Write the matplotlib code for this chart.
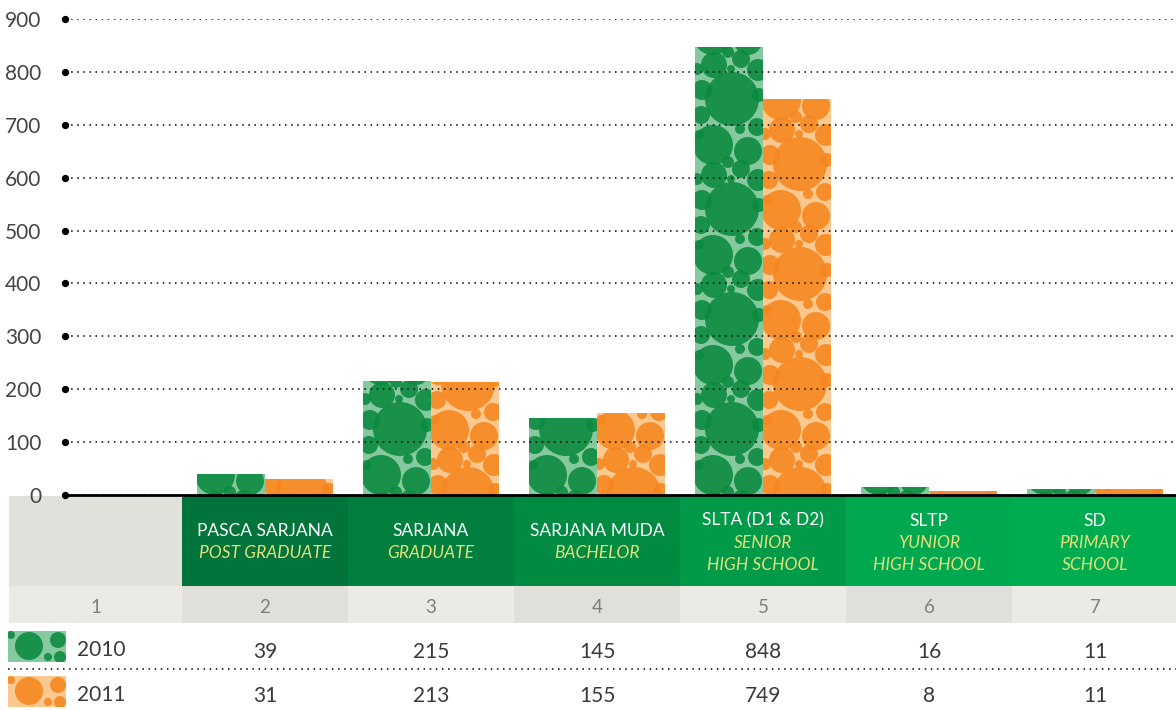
import matplotlib.pyplot as plt
from matplotlib.patches import Rectangle, Ellipse
import numpy as np

plt.rcParams['font.family'] = ['Lato', 'DejaVu Sans']

# datos
categorias = ['PASCA SARJANA', 'SARJANA', 'SARJANA MUDA', 'SLTA (D1 & D2)', 'SLTP', 'SD']
ingles = ['POST GRADUATE', 'GRADUATE', 'BACHELOR', 'SENIOR\nHIGH SCHOOL',
          'YUNIOR\nHIGH SCHOOL', 'PRIMARY\nSCHOOL']
numeros = ['1', '2', '3', '4', '5', '6', '7']
anios = ['2010', '2011']
v2010 = [39, 215, 145, 848, 16, 11]
v2011 = [31, 213, 155, 749, 8, 11]
yticks = [0, 100, 200, 300, 400, 500, 600, 700, 800, 900]

verde, verde_claro = '#0b8a3e', '#86c99f'
naranja, naranja_claro = '#f6861e', '#fbc98f'
colores_cabecera = ['#e1e0da', '#00743a', '#007f3e', '#008a42', '#009a48', '#00a84f', '#00ac50']
amarillo = '#e4e07a'

# textura de burbujas (decorativa): (cx, cy, r) en pixeles dentro de un mosaico 68 x 110
burbujas = [(18, 20, 20), (53, 14, 14), (62, 38, 9), (45, 36, 5), (37, 66, 27),
            (6, 50, 9), (7, 75, 10), (64, 70, 7), (63, 95, 11), (19, 100, 13),
            (46, 106, 9), (2, 96, 6), (33, 3, 6), (4, 30, 5), (36, 96, 4)]
tile_h = 110

W, H = 1176, 710
fig = plt.figure(figsize=(W / 100, H / 100), dpi=100)

# columnas en pixeles: la primera empieza en 16, cada una mide 166
x0_col, ancho_col = 16, 166

# --- grafico de barras ---
ax = fig.add_axes([65 / W, 215 / H, (W - 65) / W, 476 / H])
ax.set_xlim((65 - x0_col) / ancho_col, (W - x0_col) / ancho_col)
ax.set_ylim(0, 900)
ax.set_zorder(3)
ax.patch.set_alpha(0)
px_x, px_y = 1 / ancho_col, 900 / 476

k = np.arange(1, len(categorias) + 1)
ancho = 68 / ancho_col
b1 = ax.bar(k + 0.5 - ancho / 2, v2010, width=ancho, color=verde_claro, zorder=1)
b2 = ax.bar(k + 0.5 + ancho / 2, v2011, width=ancho, color=naranja_claro, zorder=1)


def texturar(barras, color, desfase):
    for r in barras:
        x, h = r.get_x(), r.get_height()
        for t in range(-1, int(h / px_y / tile_h) + 1):
            for cx, cy, rr in burbujas:
                e = Ellipse((x + cx * px_x, (t * tile_h + cy + desfase) * px_y), 2 * rr * px_x,
                            2 * rr * px_y, color=color, lw=0, alpha=0.88, zorder=2)
                ax.add_patch(e)
                e.set_clip_path(r)


texturar(b1, verde, 0)
texturar(b2, naranja, 45)

ax.set_yticks(yticks)
ax.set_yticklabels([str(t) for t in yticks], fontsize=15, color='#444444')
ax.tick_params(axis='y', length=0, pad=17)
ax.set_xticks([])
for s in ax.spines.values():
    s.set_visible(False)
ax.set_axisbelow(False)
ax.yaxis.grid(True, linestyle=(0, (1, 3)), color='black', linewidth=1.1)
ax.axhline(0, color='black', linewidth=2, zorder=3, clip_on=False)
ax.scatter([ax.get_xlim()[0]] * len(yticks), yticks, s=18, color='black',
           zorder=4, clip_on=False)

# --- tabla ---
tx = fig.add_axes([0, 0, 1, 215 / H])
tx.set_xlim(0, W)
tx.set_ylim(H, 495)
tx.axis('off')
tx.set_zorder(1)

for i in range(7):
    izq = x0_col + ancho_col * i
    der = izq + ancho_col
    if i == 0:
        izq = 9
    tx.add_patch(Rectangle((izq, 496), der - izq, 90, color=colores_cabecera[i], lw=0))
    gris = '#ebeae4' if i % 2 == 0 else '#e0dfd9'
    tx.add_patch(Rectangle((izq, 586), der - izq, 37, color=gris, lw=0))
    cx = x0_col + ancho_col * (i + 0.5)
    if i == 0:
        cx = (9 + 182) / 2
    tx.text(cx, 606, numeros[i], ha='center', va='center_baseline', fontsize=13.5, color='#7f7f7f')
    if i > 0:
        lineas = ingles[i - 1].split('\n')
        n = 1 + len(lineas)
        y = 541 - (n - 1) * 22 / 2
        tx.text(cx, y, categorias[i - 1], ha='center', va='center_baseline', fontsize=12.5,
                color='white')
        for j, l in enumerate(lineas):
            tx.text(cx, y + 22 * (j + 1), l, ha='center', va='center_baseline', fontsize=12.5,
                    color=amarillo, style='italic')
        tx.text(cx, 650, str(v2010[i - 1]), ha='center', va='center_baseline', fontsize=15,
                color='#3a3a3a')
        tx.text(cx, 694, str(v2011[i - 1]), ha='center', va='center_baseline', fontsize=15,
                color='#3a3a3a')

# leyenda
for y, c, cc, a in [(631, verde, verde_claro, anios[0]), (676, naranja, naranja_claro, anios[1])]:
    caja = Rectangle((8, y), 58, 31, color=cc, lw=0)
    tx.add_patch(caja)
    for ex, ey, er in [(21, 15, 14), (50, 9, 8), (52, 26, 6), (40, 26, 4), (3, 4, 4)]:
        e = Ellipse((8 + ex, y + ey), 2 * er, 2 * er, color=c, lw=0, alpha=0.88)
        tx.add_patch(e)
        e.set_clip_path(caja)
    tx.text(77, y + 17, a, ha='left', va='center_baseline', fontsize=15, color='#3a3a3a')

tx.plot([8, W], [669, 669], linestyle=(0, (1, 3)), color='black', linewidth=1.1)

fig.savefig('out.png', dpi=100)
